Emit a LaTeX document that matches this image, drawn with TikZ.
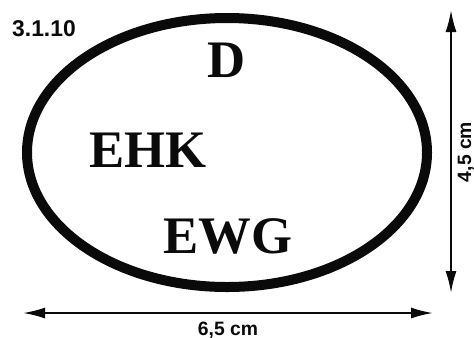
\documentclass[tikz,border=0pt]{standalone}
\usepackage{fontspec}
\setmainfont{Liberation Serif}
\setsansfont{Liberation Sans}
\usepackage{tikz}
\usetikzlibrary{arrows.meta, positioning}
\definecolor{scanblack}{HTML}{0A0A0A}
\tikzset{
  bigtag/.style={font=\fontsize{30}{36}\selectfont\bfseries, scanblack, inner sep=0pt},
  dimline/.style={{Latex[length=0.44cm, width=0.22cm]}-{Latex[length=0.44cm, width=0.22cm]}, scanblack, line width=1.1pt},
  dimtag/.style={font=\sffamily\bfseries\fontsize{11}{13}\selectfont, scanblack, inner sep=0pt}
}
\begin{document}
\begin{tikzpicture}
      \useasboundingbox (0,0) rectangle (9.48,6.74);
      \node[font=\sffamily\bfseries\fontsize{13}{15}\selectfont, scanblack, inner sep=0pt] (num) at (0.88,6.16) {3.1.10};
      % oval
      \draw[scanblack, line width=0.2cm] (4.54,3.69) ellipse [x radius=4.0, y radius=2.69];
      \node[bigtag] (dd) at (4.54,5.54) {D};
      \node[bigtag] (ehk) at (2.96,3.74) {EHK};
      \node[bigtag] (ewg) at (4.56,2.02) {EWG};
      % dimensions
      \coordinate (htop) at (9.02,6.54);
      \coordinate (hbot) at (9.02,0.88);
      \coordinate (wleft) at (0.46,0.48);
      \coordinate (wright) at (8.66,0.48);
      \draw[dimline] (htop) -- (hbot);
      \draw[dimline] (wleft) -- (wright);
      \node[dimtag, rotate=90] (hlab) at (9.32,3.70) {4,5 cm};
      \node[dimtag, anchor=base] (wlab) at (4.56,0.04) {6,5 cm};
    \end{tikzpicture}
\end{document}
